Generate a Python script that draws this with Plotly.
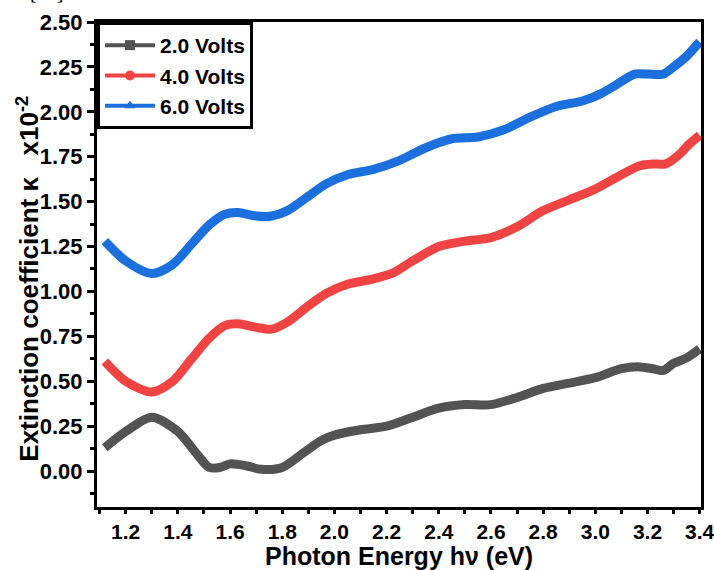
import plotly.graph_objects as go

energy_black = [1.12, 1.2, 1.3, 1.4, 1.47, 1.52, 1.56, 1.6, 1.66, 1.72, 1.8, 1.88, 1.95, 2.0, 2.1, 2.2, 2.3, 2.4, 2.5, 2.6, 2.7, 2.8, 2.9, 3.0, 3.1, 3.17, 3.22, 3.26, 3.3, 3.35, 3.4]
kappa_2v = [0.13, 0.22, 0.30, 0.22, 0.10, 0.02, 0.02, 0.04, 0.03, 0.01, 0.02, 0.10, 0.17, 0.20, 0.23, 0.25, 0.30, 0.35, 0.37, 0.37, 0.41, 0.46, 0.49, 0.52, 0.57, 0.58, 0.57, 0.56, 0.60, 0.63, 0.68]

energy_red = [1.12, 1.2, 1.3, 1.38, 1.45, 1.52, 1.58, 1.63, 1.7, 1.76, 1.82, 1.9, 1.97, 2.05, 2.15, 2.22, 2.3, 2.4, 2.5, 2.6, 2.7, 2.8, 2.9, 3.0, 3.1, 3.17, 3.22, 3.27, 3.32, 3.36, 3.4]
kappa_4v = [0.61, 0.50, 0.44, 0.50, 0.62, 0.74, 0.81, 0.82, 0.80, 0.79, 0.83, 0.92, 0.99, 1.04, 1.07, 1.10, 1.17, 1.25, 1.28, 1.30, 1.36, 1.45, 1.51, 1.57, 1.65, 1.70, 1.71, 1.71, 1.76, 1.82, 1.87]

energy_blue = [1.12, 1.2, 1.3, 1.38, 1.45, 1.52, 1.58, 1.63, 1.7, 1.76, 1.82, 1.9, 1.97, 2.05, 2.15, 2.25, 2.35, 2.45, 2.55, 2.65, 2.75, 2.85, 2.95, 3.02, 3.08, 3.15, 3.2, 3.26, 3.3, 3.35, 3.4]
kappa_6v = [1.28, 1.17, 1.10, 1.15, 1.26, 1.37, 1.43, 1.44, 1.42, 1.42, 1.45, 1.53, 1.60, 1.65, 1.68, 1.73, 1.80, 1.85, 1.86, 1.90, 1.97, 2.03, 2.06, 2.10, 2.15, 2.21, 2.21, 2.21, 2.25, 2.31, 2.39]

names = ["2.0 Volts", "4.0 Volts", "6.0 Volts"]
colors = ["#535353", "#F04343", "#1C70DE"]
symbols = ["square", "circle", "triangle-up"]

x_ticks = [1.2, 1.4, 1.6, 1.8, 2.0, 2.2, 2.4, 2.6, 2.8, 3.0, 3.2, 3.4]
y_ticks = [0.0, 0.25, 0.5, 0.75, 1.0, 1.25, 1.5, 1.75, 2.0, 2.25, 2.5]

x_title = "Photon Energy h\u03bd (eV)"
y_title = "Extinction coefficient \u03ba   x10<sup>-2</sup>"

fig = go.Figure()
series = [(energy_black, kappa_2v), (energy_red, kappa_4v), (energy_blue, kappa_6v)]
for (xs, ys), name, c in zip(series, names, colors):
    fig.add_trace(go.Scatter(x=xs, y=ys, mode="lines", line=dict(color=c, width=9, shape="spline", smoothing=0.8),
                             showlegend=False, hoverinfo="skip"))
for name, c, s in zip(names, colors, symbols):
    fig.add_trace(go.Scatter(x=[None], y=[None], mode="lines+markers", name=name,
                             line=dict(color=c, width=4), marker=dict(symbol=s, size=10, color=c)))

font_fam = "Liberation Sans, Arial, sans-serif"
fig.update_layout(
    width=714, height=570,
    margin=dict(l=97, r=13, t=22, b=63),
    plot_bgcolor="white", paper_bgcolor="white",
    font=dict(family=font_fam, color="black"),
    legend=dict(x=0, y=1, xanchor="left", yanchor="top", bgcolor="white",
                bordercolor="black", borderwidth=3,
                font=dict(family=font_fam, size=21, color="black", weight="bold"),
                tracegroupgap=0, itemwidth=50),
    xaxis=dict(range=[1.09, 3.405], tickvals=x_ticks, ticktext=[f"{v:.1f}" for v in x_ticks],
               automargin=False, ticklabeloverflow="allow",
               showgrid=False, zeroline=False, showline=True, linecolor="black", linewidth=3, mirror=True,
               ticks="outside", ticklen=4, tickwidth=3, tickcolor="black",
               minor=dict(ticks="outside", ticklen=4, tickwidth=3, tickcolor="black", dtick=0.1, tick0=1.1),
               tickfont=dict(size=21, weight="bold")),
    yaxis=dict(range=[-0.2, 2.5], tickvals=y_ticks, ticktext=[f"{v:.2f}" for v in y_ticks],
               automargin=False, ticklabeloverflow="allow",
               showgrid=False, zeroline=False, showline=True, linecolor="black", linewidth=3, mirror=True,
               ticks="outside", ticklen=7, tickwidth=3, tickcolor="black",
               minor=dict(ticks="outside", ticklen=4, tickwidth=3, tickcolor="black", dtick=0.125, tick0=0),
               tickfont=dict(size=22, weight="bold")),
    annotations=[
        dict(text=x_title, xref="paper", yref="paper", x=0.5, y=-0.102, xanchor="center", yanchor="middle",
             showarrow=False, font=dict(family=font_fam, size=25, color="black", weight="bold")),
        dict(text=y_title, xref="paper", yref="paper", x=-0.114, y=0.471, xanchor="center", yanchor="middle",
             textangle=-90, showarrow=False, font=dict(family=font_fam, size=26, color="black", weight="bold")),
        dict(text="[25].", xref="paper", yref="paper", x=-0.115, y=1.035, xanchor="left", yanchor="bottom",
             showarrow=False, font=dict(family="Liberation Serif, Times New Roman, serif", size=20, color="black")),
    ],
)

fig.write_html("out.html")
